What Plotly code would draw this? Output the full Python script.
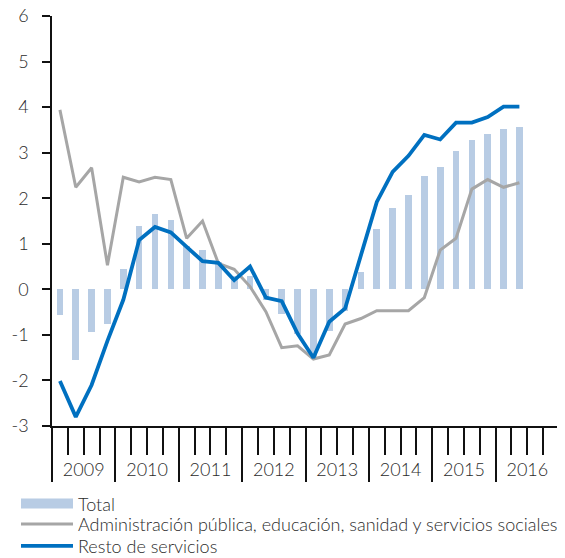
import plotly.graph_objects as go

years = [2009, 2010, 2011, 2012, 2013, 2014, 2015, 2016]
quarters = [f"{y} T{q}" for y in years for q in range(1, 5)][:30]

total = [-0.56, -1.55, -0.93, -0.77, 0.44, 1.40, 1.65, 1.52,
         0.95, 0.86, 0.60, 0.30, 0.30, -0.23, -0.55, -0.97,
         -1.50, -0.91, -0.47, 0.39, 1.32, 1.78, 2.07, 2.49,
         2.69, 3.04, 3.28, 3.41, 3.53, 3.57]

admin = [3.94, 2.24, 2.67, 0.53, 2.46, 2.36, 2.46, 2.41,
         1.12, 1.50, 0.57, 0.44, 0.06, -0.49, -1.28, -1.24,
         -1.53, -1.44, -0.76, -0.64, -0.47, -0.47, -0.47, -0.18,
         0.86, 1.12, 2.20, 2.41, 2.24, 2.34]

resto = [-2.01, -2.80, -2.10, -1.13, -0.23, 1.08, 1.37, 1.25,
         0.93, 0.62, 0.58, 0.20, 0.50, -0.18, -0.26, -0.97,
         -1.50, -0.71, -0.42, 0.75, 1.92, 2.58, 2.93, 3.39,
         3.29, 3.66, 3.66, 3.78, 4.01, 4.01]

ytick_vals = [-3, -2, -1, 0, 1, 2, 3, 4, 5, 6]
ytick_text = ["-3", "-2", "-1", "0", "1", "2", "3", "4", "5", "6"]

names = ["Total",
         "Administración pública, educación, sanidad y servicios sociales",
         "Resto de servicios"]

FONT = "Lato"
TXT = "#2b2b2b"
C_BAR = "#b8cce4"
C_GREY = "#a6a6a6"
C_BLUE = "#0070c0"

xpos = [i + 0.5 for i in range(len(quarters))]
n_q = len(years) * 4
year_centers = [4 * k + 2 for k in range(len(years))]

fig = go.Figure()
fig.add_trace(go.Bar(x=xpos, y=total, width=0.42, marker_color=C_BAR,
                     marker_line_width=0, showlegend=False, name=names[0],
                     hovertext=quarters))
fig.add_trace(go.Scatter(x=[None], y=[None], mode="lines", name=names[0],
                         line=dict(color=C_BAR, width=10), legend="legend"))
fig.add_trace(go.Scatter(x=xpos, y=admin, mode="lines", name=names[1],
                         line=dict(color=C_GREY, width=3), legend="legend2"))
fig.add_trace(go.Scatter(x=xpos, y=resto, mode="lines", name=names[2],
                         line=dict(color=C_BLUE, width=3.8), legend="legend3"))
# invisible trace to carry the year-label axis
fig.add_trace(go.Scatter(x=[0, n_q], y=[None, None], xaxis="x2",
                         showlegend=False, hoverinfo="skip"))

LX = -0.071
leg_common = dict(orientation="v", x=LX, xanchor="left", yanchor="middle",
                  font=dict(size=18, color=TXT, weight=300),
                  bgcolor="rgba(0,0,0,0)", itemwidth=52, tracegroupgap=0)

fig.update_layout(
    width=557, height=550,
    margin=dict(l=44, r=6, t=8, b=132, autoexpand=False),
    paper_bgcolor="white", plot_bgcolor="white",
    font=dict(family=FONT, size=17, color=TXT, weight=300),
    bargap=0,
    xaxis=dict(range=[0, n_q], tickmode="linear", tick0=0, dtick=4,
               ticks="outside", ticklen=54, tickwidth=2, tickcolor="#111",
               showticklabels=False, showline=True, linewidth=1.5,
               linecolor="#111", showgrid=False, zeroline=False,
               automargin=False,
               minor=dict(ticks="outside", ticklen=27, tickwidth=2,
                          tickcolor="#111", tick0=0, dtick=1, showgrid=False)),
    xaxis2=dict(range=[0, n_q], overlaying="x", anchor="y", side="bottom",
                tickmode="array", tickvals=year_centers,
                ticktext=[str(y) for y in years],
                ticks="outside", ticklen=27, tickcolor="rgba(0,0,0,0)",
                showline=False, showgrid=False, zeroline=False,
                automargin=False, ticklabeloverflow="allow",
                tickfont=dict(size=18, color=TXT, weight=300)),
    yaxis=dict(range=[-3, 6], tickmode="array", tickvals=ytick_vals,
               ticktext=ytick_text, ticks="outside", ticklen=8, tickwidth=1.5,
               tickcolor="#111", showline=True, linewidth=1.5, linecolor="#111",
               showgrid=False, zeroline=False, automargin=False,
               ticklabeloverflow="allow",
               tickfont=dict(size=18, color=TXT, weight=300),
               ticklabelstandoff=10),
    legend=dict(y=-0.19, **leg_common),
    legend2=dict(y=-0.24, **leg_common),
    legend3=dict(y=-0.293, **leg_common),
    showlegend=True,
)

fig.write_html("out.html")
